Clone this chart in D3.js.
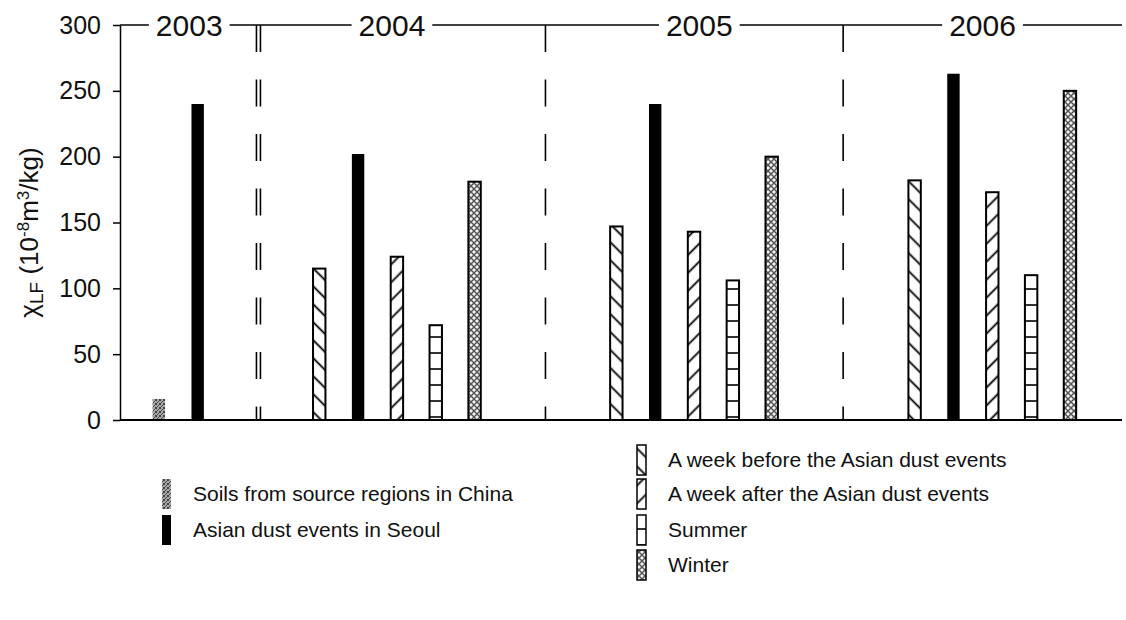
<!DOCTYPE html>
<html>
<head>
<meta charset="utf-8">
<script src="https://cdn.jsdelivr.net/npm/d3@7"></script>
<style>
    body { margin: 0; background: #fff; }
    text { font-family: "Liberation Sans", Arial, sans-serif; fill: #111; }
</style>
</head>
<body>
<svg id="chart" width="1126" height="620"></svg>
<script>
// Chart data
const years = ["2003", "2004", "2005", "2006"];
const seriesKeys = ["soil", "before", "dust", "after", "summer", "winter"];
const seriesLabels = {
    soil: "Soils from source regions in China",
    dust: "Asian dust events in Seoul",
    before: "A week before the Asian dust events",
    after: "A week after the Asian dust events",
    summer: "Summer",
    winter: "Winter"
};
const soilValues   = [16, null, null, null];
const beforeValues = [null, 115, 147, 182];
const dustValues   = [240, 202, 240, 263];
const afterValues  = [null, 124, 143, 173];
const summerValues = [null, 72, 106, 110];
const winterValues = [null, 181, 200, 250];
const yTicks = [0, 50, 100, 150, 200, 250, 300];

const valuesBySeries = {
    soil: soilValues, before: beforeValues, dust: dustValues,
    after: afterValues, summer: summerValues, winter: winterValues
};

const svg = d3.select("#chart");
const defs = svg.append("defs");

// Layout: bars sit in unit slots, year groups separated by wider gaps
const groupGaps = [0.5, 2.13, 2.65, 2.68];
let cursor = 0;
let bars = [];
let groups = [];
years.forEach((yr, i) => {
    cursor += groupGaps[i];
    let start = cursor;
    seriesKeys.forEach(k => {
        let v = valuesBySeries[k][i];
        if (v == null) return;
        bars.push({ year: yr, key: k, value: v, slot: cursor + 0.5 });
        cursor += 1;
    });
    groups.push({ year: yr, start: start, end: cursor });
});
const totalSlots = cursor + 0.84;

const x = d3.scaleLinear().domain([0, totalSlots]).range([120, 1122]);
const y = d3.scaleLinear().domain([0, 300]).range([420, 25]);

// Patterns
function hatch(id, angle) {
    let s = 12.7;
    let p = defs.append("pattern").attr("id", id)
        .attr("patternUnits", "userSpaceOnUse")
        .attr("width", s).attr("height", s)
        .attr("patternTransform", `rotate(${angle})`);
    p.append("rect").attr("width", s).attr("height", s).attr("fill", "#fff");
    p.append("line").attr("x1", s / 2).attr("x2", s / 2).attr("y1", 0).attr("y2", s)
        .attr("stroke", "#000").attr("stroke-width", 1.8);
}
hatch("pat-before", -45);
hatch("pat-after", 45);

let summerPat = defs.append("pattern").attr("id", "pat-summer")
    .attr("patternUnits", "userSpaceOnUse")
    .attr("width", 4).attr("height", 16).attr("y", y(0));
summerPat.append("rect").attr("width", 4).attr("height", 16).attr("fill", "#fff");
summerPat.append("line").attr("x1", 0).attr("x2", 4).attr("y1", 13).attr("y2", 13)
    .attr("stroke", "#000").attr("stroke-width", 1.6);

let winterPat = defs.append("pattern").attr("id", "pat-winter")
    .attr("patternUnits", "userSpaceOnUse")
    .attr("width", 6).attr("height", 6);
winterPat.append("rect").attr("width", 6).attr("height", 6).attr("fill", "#f2f2f2");
[[3, 3], [0, 0], [6, 0], [0, 6], [6, 6]].forEach(c => {
    winterPat.append("circle").attr("cx", c[0]).attr("cy", c[1]).attr("r", 2.4)
        .attr("fill", "none").attr("stroke", "#333").attr("stroke-width", 0.8);
});

// gray stipple for the soil bar
let soilPat = defs.append("pattern").attr("id", "pat-soil")
    .attr("patternUnits", "userSpaceOnUse")
    .attr("width", 4).attr("height", 4);
soilPat.append("rect").attr("width", 4).attr("height", 4).attr("fill", "#a8a8a8");
[[0, 0], [2, 1], [1, 2], [3, 3], [3, 0], [0, 3]].forEach(c => {
    soilPat.append("rect").attr("x", c[0]).attr("y", c[1]).attr("width", 1).attr("height", 1)
        .attr("fill", "#444");
});

const fills = {
    soil: "url(#pat-soil)", dust: "#000", before: "url(#pat-before)",
    after: "url(#pat-after)", summer: "url(#pat-summer)", winter: "url(#pat-winter)"
};
const outlined = k => k !== "dust" && k !== "soil";

// Year dividers (midpoints of the gaps between groups)
let dividers = [];
for (let i = 1; i < groups.length; i++) {
    dividers.push(x((groups[i - 1].end + groups[i].start) / 2));
}
let divG = svg.append("g");
dividers.forEach((dx, i) => {
    let offsets = i === 0 ? [-2, 2] : [0];
    offsets.forEach(o => {
        divG.append("line")
            .attr("x1", dx + o).attr("x2", dx + o)
            .attr("y1", y(300)).attr("y2", y(0))
            .attr("stroke", "#000").attr("stroke-width", 1.6)
            .attr("stroke-dasharray", "27,27.5");
    });
});

// Year labels along the top line
let bounds = [x(0)].concat(dividers, [x(totalSlots)]);
let yearLabels = svg.append("g").selectAll("text")
    .data(years)
    .enter()
    .append("text")
    .attr("x", (d, i) => (bounds[i] + bounds[i + 1]) / 2 + (i === 1 ? -10 : i === 2 ? 5 : 0))
    .attr("y", y(300) + 11)
    .attr("text-anchor", "middle")
    .style("font-size", "30px")
    .text(d => d);

let edges = [x(0)];
yearLabels.each(function () {
    let b = this.getBBox();
    edges.push(b.x - 7, b.x + b.width + 7);
});
edges.push(x(totalSlots));
for (let i = 0; i < edges.length; i += 2) {
    svg.append("line")
        .attr("x1", edges[i]).attr("x2", edges[i + 1])
        .attr("y1", y(300)).attr("y2", y(300))
        .attr("stroke", "#000").attr("stroke-width", 1.5);
}

// Bars
svg.append("g").selectAll("rect")
    .data(bars)
    .enter()
    .append("rect")
    .attr("x", d => x(d.slot) - 6.2)
    .attr("width", 12.4)
    .attr("y", d => y(d.value))
    .attr("height", d => y(0) - y(d.value))
    .attr("fill", d => fills[d.key])
    .attr("stroke", d => outlined(d.key) ? "#000" : "none")
    .attr("stroke-width", 2);

// Axes
let yAxis = svg.append("g")
    .attr("transform", `translate(${x(0)},0)`)
    .call(d3.axisLeft(y).tickValues(yTicks).tickSize(7).tickSizeOuter(0).tickPadding(12));
yAxis.select(".domain").attr("stroke", "#000").attr("stroke-width", 1.5);
yAxis.selectAll(".tick line").attr("stroke", "#000").attr("stroke-width", 1.5);
yAxis.selectAll(".tick text")
    .style("font-size", "25px")
    .style("font-family", "'Liberation Sans', Arial, sans-serif")
    .attr("fill", "#111");

svg.append("line")
    .attr("x1", x(0)).attr("x2", x(totalSlots))
    .attr("y1", y(0)).attr("y2", y(0))
    .attr("stroke", "#000").attr("stroke-width", 2);

// Y axis title
let title = svg.append("text")
    .attr("transform", `translate(38,${(y(0) + y(300)) / 2 + 10}) rotate(-90)`)
    .attr("text-anchor", "middle")
    .style("font-size", "26px");
title.append("tspan").text("χ");
title.append("tspan").attr("baseline-shift", "-25%").style("font-size", "19px").text("LF");
title.append("tspan").text(" (10");
title.append("tspan").attr("baseline-shift", "super").style("font-size", "17px").text("-8");
title.append("tspan").text("m");
title.append("tspan").attr("baseline-shift", "super").style("font-size", "17px").text("3");
title.append("tspan").text("/kg)");

// Legend
const legendCols = [
    { x: 162, keys: ["soil", "dust"], rows: [494, 530] },
    { x: 637, keys: ["before", "after", "summer", "winter"], rows: [460, 494, 530, 565] }
];
let legend = svg.append("g");
legendCols.forEach(col => {
    col.keys.forEach((k, i) => {
        let cy = col.rows[i];
        legend.append("rect")
            .attr("x", col.x).attr("y", cy - 15)
            .attr("width", 9).attr("height", 30)
            .attr("fill", fills[k])
            .attr("stroke", outlined(k) ? "#000" : "none")
            .attr("stroke-width", 1.5);
        legend.append("text")
            .attr("x", col.x + 31).attr("y", cy + 7)
            .style("font-size", "21px")
            .text(seriesLabels[k]);
    });
});
</script>
</body>
</html>
